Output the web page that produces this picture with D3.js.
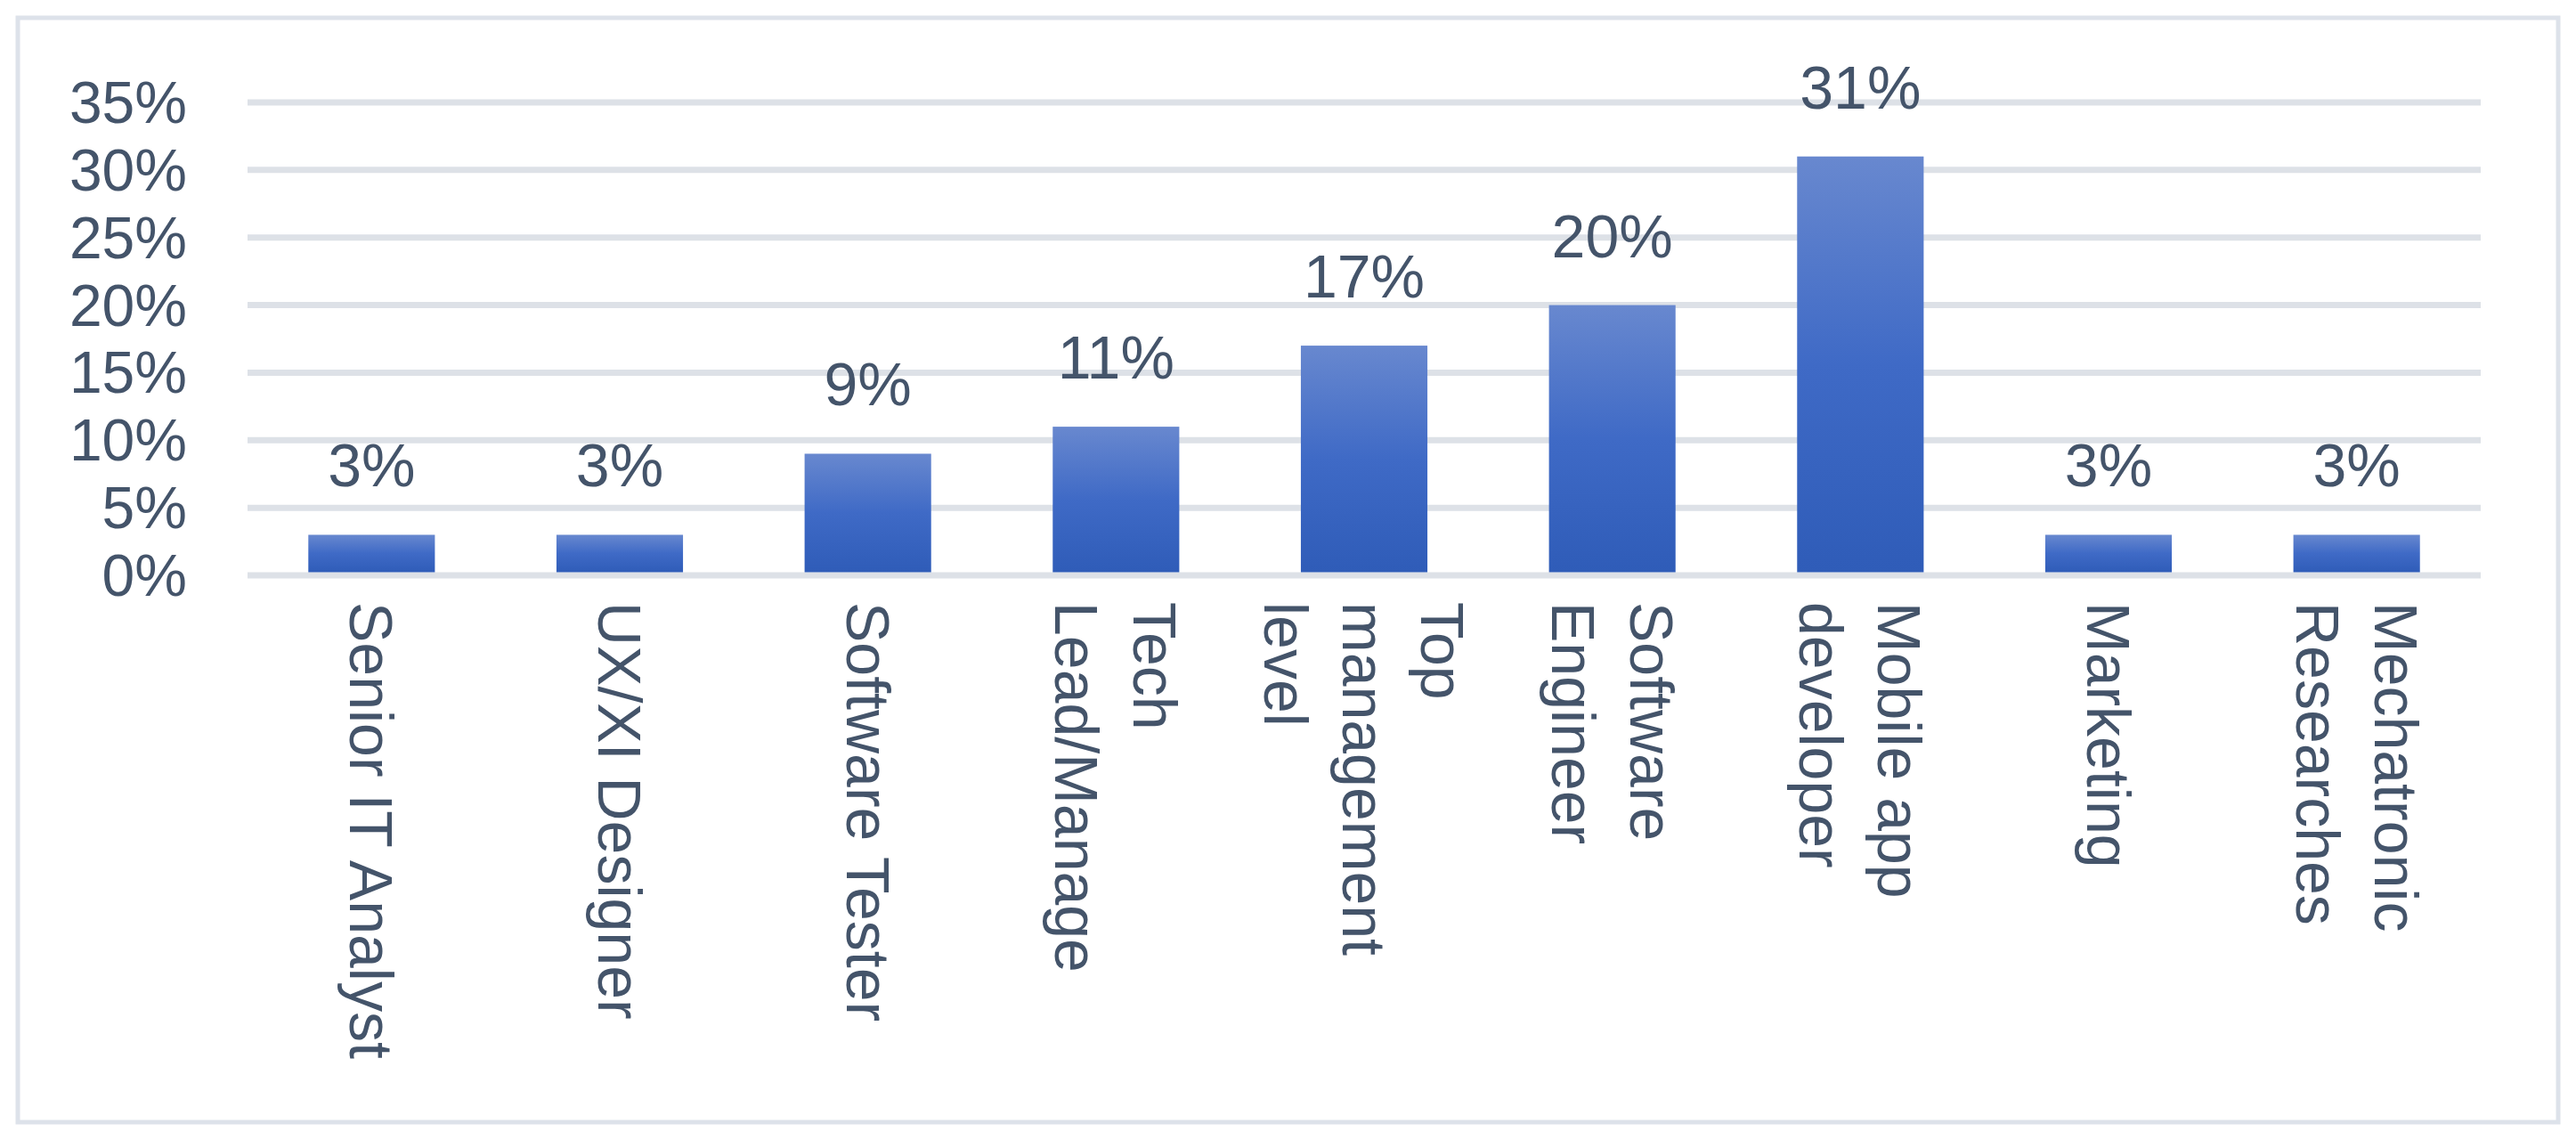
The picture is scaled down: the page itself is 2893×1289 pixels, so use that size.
<!DOCTYPE html>
<html><head><meta charset="utf-8">
<script src="https://cdn.jsdelivr.net/npm/d3@7"></script>
<style>body{margin:0;background:#fff}svg{display:block}</style>
</head><body>
<script>
const categories = [["Senior IT Analyst"],["UX/XI Designer"],["Software Tester"],["Tech","Lead/Manage"],["Top","management","level"],["Software","Engineer"],["Mobile app","developer"],["Marketing"],["Mechatronic","Researches"]];
const values = [3,3,9,11,17,20,31,3,3];
const yTicks = [0,5,10,15,20,25,30,35];

const W=2893,H=1289, font="'Liberation Sans Narrow','Liberation Sans',sans-serif", col="#44546a";
const svg=d3.select("body").append("svg").attr("width",W).attr("height",H);
const defs=svg.append("defs");
const g=defs.append("linearGradient").attr("id","gr").attr("x1",0).attr("y1",0).attr("x2",0).attr("y2",1);
g.append("stop").attr("offset","0%").attr("stop-color","#6888cf");
g.append("stop").attr("offset","50%").attr("stop-color","#3f6ac6");
g.append("stop").attr("offset","100%").attr("stop-color","#2f5cb8");
svg.append("rect").attr("x",20).attr("y",20).attr("width",2853).attr("height",1240).attr("fill","#fff").attr("stroke","#dde2ea").attr("stroke-width",5);

const x=d3.scaleBand().domain(d3.range(values.length)).range([278,2786]).paddingInner(0.49).paddingOuter(0.245);
const y=d3.scaleLinear().domain([0,35]).range([646,115]);

svg.append("g").selectAll("line").data(yTicks).join("line")
 .attr("x1",278).attr("x2",2786).attr("y1",d=>y(d)).attr("y2",d=>y(d))
 .attr("stroke","#dde1e7").attr("stroke-width",7);
svg.append("g").selectAll("text").data(yTicks).join("text")
 .attr("x",210).attr("y",d=>y(d)+23).attr("text-anchor","end")
 .attr("font-family",font).attr("font-size",66).attr("fill",col).text(d=>d+"%");

svg.append("g").selectAll("rect").data(values).join("rect")
 .attr("x",(d,i)=>x(i)).attr("width",x.bandwidth()).attr("y",d=>y(d)).attr("height",d=>y(0)-y(d)-3.5).attr("fill","url(#gr)");
svg.append("g").selectAll("text").data(values).join("text")
 .attr("x",(d,i)=>x(i)+x.bandwidth()/2).attr("y",d=>y(d)-54).attr("text-anchor","middle")
 .attr("font-family",font).attr("font-size",68).attr("fill",col).text(d=>d+"%");

const lh=88;
categories.forEach((lines,i)=>{
  const cx=x(i)+x.bandwidth()/2;
  const t=svg.append("text").attr("transform",`translate(${cx + (lines.length-1)*lh/2 - 24},676) rotate(90)`)
   .attr("font-family",font).attr("font-size",68).attr("fill",col);
  lines.forEach((l,j)=>t.append("tspan").attr("x",0).attr("y",j*lh).text(l));
});
</script>
</body></html>
